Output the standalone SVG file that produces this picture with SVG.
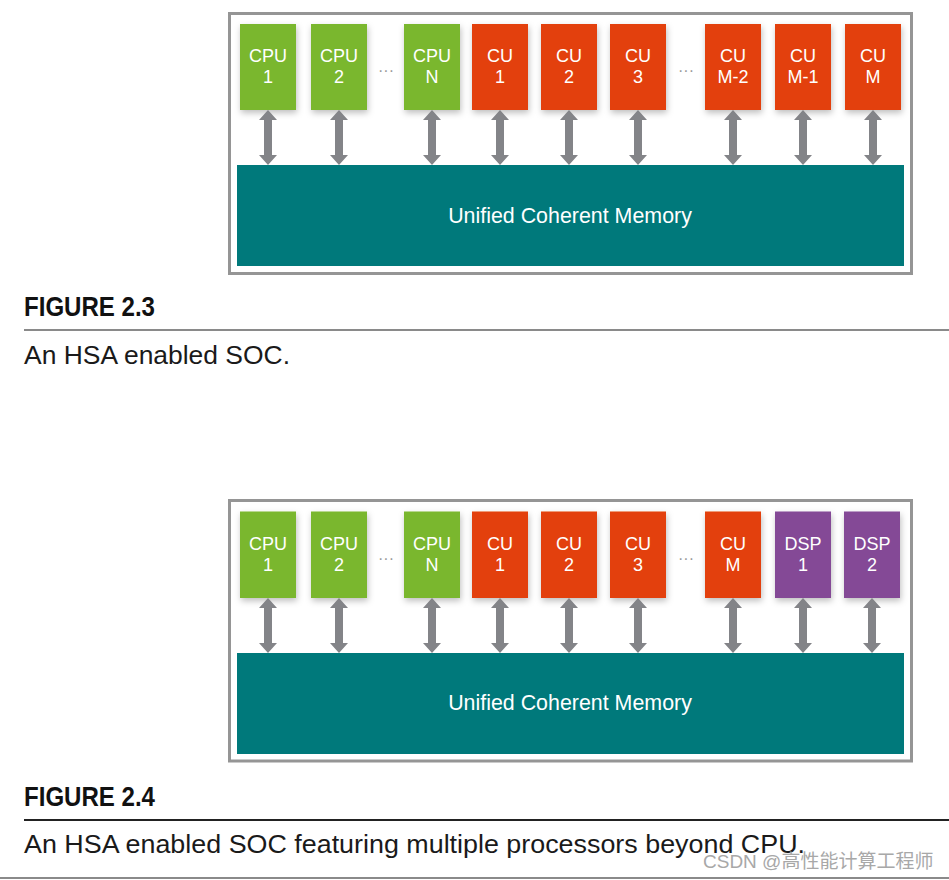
<svg xmlns="http://www.w3.org/2000/svg" xmlns:xlink="http://www.w3.org/1999/xlink" width="949" height="880" viewBox="0 0 949 880">
<style>
.frame{fill:#fff;stroke:#959595;stroke-width:3}
.cpu{fill:#7ab72e}
.cu{fill:#e3400b}
.dsp{fill:#844896}
.mem{fill:#00797b}
.bx{filter:url(#sh)}
.lbl{font-family:"Liberation Sans",Arial,sans-serif;font-size:18px;fill:#fff;text-anchor:middle}
.memt{font-family:"Liberation Sans",Arial,sans-serif;font-size:21.4px;fill:#fff;text-anchor:middle}
.dots{font-family:"Liberation Sans",Arial,sans-serif;font-size:16px;fill:#9a9a9a;text-anchor:middle}
.arr{fill:#838488}
.figt{font-family:"Liberation Sans",Arial,sans-serif;font-weight:bold;font-size:28px;fill:#111}
.cap{font-family:"Liberation Sans",Arial,sans-serif;font-size:26px;fill:#1a1a1a}
.wm{font-family:"Liberation Sans","Noto Sans CJK SC",sans-serif;font-size:19px;fill:#a8a8a8}
</style>
<defs>
<filter id="sh" x="-20%" y="-20%" width="150%" height="150%">
<feDropShadow dx="1" dy="3" stdDeviation="3" flood-color="#000" flood-opacity="0.25"/>
</filter>
<path id="da" d="M0,0 L9,10 L4,10 L4,45 L9,45 L0,55 L-9,45 L-4,45 L-4,10 L-9,10 Z"/>
</defs>

<!-- Figure 2.3 -->
<g id="fig1">
<rect class="frame" x="229.5" y="13.5" width="682" height="260"/>
<g id="f1-mem"><rect class="mem" x="237" y="165" width="667" height="101"/><text class="memt" x="570" y="223">Unified Coherent Memory</text></g>
<g id="f1-cpu1"><rect class="cpu bx" x="240" y="24" width="56" height="86"/><text class="lbl" x="268" y="62">CPU</text><text class="lbl" x="268" y="83">1</text></g>
<g id="f1-cpu2"><rect class="cpu bx" x="311" y="24" width="56" height="86"/><text class="lbl" x="339" y="62">CPU</text><text class="lbl" x="339" y="83">2</text></g>
<text class="dots" x="386" y="76">···</text>
<g id="f1-cpun"><rect class="cpu bx" x="404" y="24" width="56" height="86"/><text class="lbl" x="432" y="62">CPU</text><text class="lbl" x="432" y="83">N</text></g>
<g id="f1-cu1"><rect class="cu bx" x="472" y="24" width="56" height="86"/><text class="lbl" x="500" y="62">CU</text><text class="lbl" x="500" y="83">1</text></g>
<g id="f1-cu2"><rect class="cu bx" x="541" y="24" width="56" height="86"/><text class="lbl" x="569" y="62">CU</text><text class="lbl" x="569" y="83">2</text></g>
<g id="f1-cu3"><rect class="cu bx" x="610" y="24" width="56" height="86"/><text class="lbl" x="638" y="62">CU</text><text class="lbl" x="638" y="83">3</text></g>
<text class="dots" x="686" y="76">···</text>
<g id="f1-cum2"><rect class="cu bx" x="705" y="24" width="56" height="86"/><text class="lbl" x="733" y="62">CU</text><text class="lbl" x="733" y="83">M-2</text></g>
<g id="f1-cum1"><rect class="cu bx" x="775" y="24" width="56" height="86"/><text class="lbl" x="803" y="62">CU</text><text class="lbl" x="803" y="83">M-1</text></g>
<g id="f1-cum"><rect class="cu bx" x="845" y="24" width="56" height="86"/><text class="lbl" x="873" y="62">CU</text><text class="lbl" x="873" y="83">M</text></g>
<g id="f1-connectors" class="arr">
<use xlink:href="#da" x="268" y="110"/>
<use xlink:href="#da" x="339" y="110"/>
<use xlink:href="#da" x="432" y="110"/>
<use xlink:href="#da" x="500" y="110"/>
<use xlink:href="#da" x="569" y="110"/>
<use xlink:href="#da" x="638" y="110"/>
<use xlink:href="#da" x="733" y="110"/>
<use xlink:href="#da" x="803" y="110"/>
<use xlink:href="#da" x="873" y="110"/>
</g>
</g>
<text class="figt" x="24" y="316" textLength="131" lengthAdjust="spacingAndGlyphs">FIGURE 2.3</text>
<rect x="24" y="329" width="925" height="2" fill="#8a8a8a"/>
<text class="cap" x="24" y="364" textLength="266" lengthAdjust="spacingAndGlyphs">An HSA enabled SOC.</text>

<!-- Figure 2.4 -->
<g id="fig2">
<rect class="frame" x="229.5" y="500.5" width="682" height="260.5"/>
<g id="f2-mem"><rect class="mem" x="237" y="653" width="667" height="101"/><text class="memt" x="570" y="710">Unified Coherent Memory</text></g>
<g id="f2-cpu1"><rect class="cpu bx" x="240" y="511.5" width="56" height="86.5"/><text class="lbl" x="268" y="550">CPU</text><text class="lbl" x="268" y="571">1</text></g>
<g id="f2-cpu2"><rect class="cpu bx" x="311" y="511.5" width="56" height="86.5"/><text class="lbl" x="339" y="550">CPU</text><text class="lbl" x="339" y="571">2</text></g>
<text class="dots" x="386" y="564">···</text>
<g id="f2-cpun"><rect class="cpu bx" x="404" y="511.5" width="56" height="86.5"/><text class="lbl" x="432" y="550">CPU</text><text class="lbl" x="432" y="571">N</text></g>
<g id="f2-cu1"><rect class="cu bx" x="472" y="511.5" width="56" height="86.5"/><text class="lbl" x="500" y="550">CU</text><text class="lbl" x="500" y="571">1</text></g>
<g id="f2-cu2"><rect class="cu bx" x="541" y="511.5" width="56" height="86.5"/><text class="lbl" x="569" y="550">CU</text><text class="lbl" x="569" y="571">2</text></g>
<g id="f2-cu3"><rect class="cu bx" x="610" y="511.5" width="56" height="86.5"/><text class="lbl" x="638" y="550">CU</text><text class="lbl" x="638" y="571">3</text></g>
<text class="dots" x="686" y="564">···</text>
<g id="f2-cum"><rect class="cu bx" x="705" y="511.5" width="56" height="86.5"/><text class="lbl" x="733" y="550">CU</text><text class="lbl" x="733" y="571">M</text></g>
<g id="f2-dsp1"><rect class="dsp bx" x="775" y="511.5" width="56" height="86.5"/><text class="lbl" x="803" y="550">DSP</text><text class="lbl" x="803" y="571">1</text></g>
<g id="f2-dsp2"><rect class="dsp bx" x="844" y="511.5" width="56" height="86.5"/><text class="lbl" x="872" y="550">DSP</text><text class="lbl" x="872" y="571">2</text></g>
<g id="f2-connectors" class="arr">
<use xlink:href="#da" x="268" y="598"/>
<use xlink:href="#da" x="339" y="598"/>
<use xlink:href="#da" x="432" y="598"/>
<use xlink:href="#da" x="500" y="598"/>
<use xlink:href="#da" x="569" y="598"/>
<use xlink:href="#da" x="638" y="598"/>
<use xlink:href="#da" x="733" y="598"/>
<use xlink:href="#da" x="803" y="598"/>
<use xlink:href="#da" x="872" y="598"/>
</g>
</g>
<text class="figt" x="24" y="806" textLength="131" lengthAdjust="spacingAndGlyphs">FIGURE 2.4</text>
<rect x="24" y="819" width="925" height="2" fill="#222"/>
<text class="cap" x="24" y="853" textLength="781" lengthAdjust="spacingAndGlyphs">An HSA enabled SOC featuring multiple processors beyond CPU.</text>
<text class="wm" x="703" y="868">CSDN @高性能计算工程师</text>
<rect x="0" y="877" width="949" height="2" fill="#8a8a8a"/>
</svg>
